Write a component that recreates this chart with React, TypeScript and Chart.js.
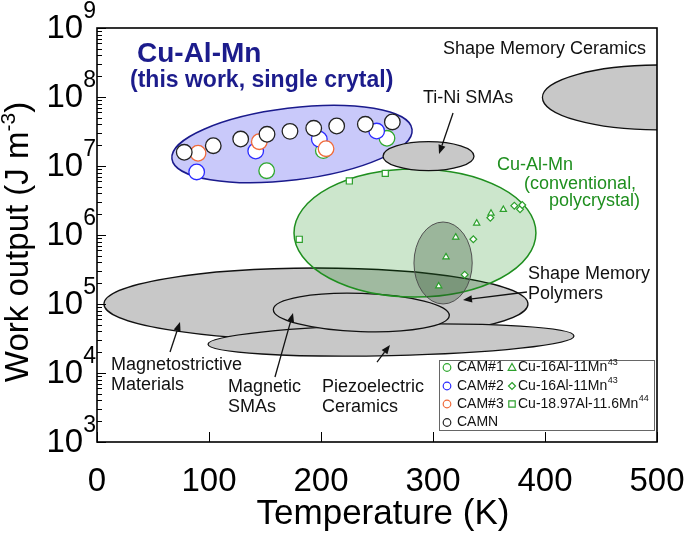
import { useEffect, useRef } from "react";
import { Chart, registerables } from "chart.js";

Chart.register(...registerables);

const FONT = '"Liberation Sans", Arial, Helvetica, sans-serif';

// ---------- axes ----------
const X_TICKS = [0, 100, 200, 300, 400, 500];
const Y_DECADES = [3, 4, 5, 6, 7, 8, 9];
const X_TITLE = "Temperature (K)";
const Y_TITLE = "Work output (J m";
const Y_TITLE_SUP = "-3";
const Y_TITLE_END = ")";

// ---------- this work (single crystals) ----------
const CAM1_T = [151.5, 202.1, 258.9];
const CAM1_W = [8.55e6, 1.67e7, 2.52e7];
const CAM2_T = [89.0, 141.7, 198.5, 249.7];
const CAM2_W = [8.2e6, 1.65e7, 2.44e7, 3.21e7];
const CAM3_T = [90.2, 144.9, 204.5];
const CAM3_W = [1.53e7, 2.25e7, 1.78e7];
const CAMN_T = [77.9, 103.8, 128.3, 151.8, 172.3, 193.5, 214.0, 239.6, 263.7];
const CAMN_W = [1.58e7, 1.97e7, 2.46e7, 2.88e7, 3.18e7, 3.52e7, 3.8e7, 4.02e7, 4.35e7];

// ---------- literature (conventional polycrystals) ----------
const TRI_T = [305.1, 311.6, 320.3, 339.0, 351.8, 362.8];
const TRI_W = [1.82e5, 4.8e5, 9.27e5, 1.48e6, 2.06e6, 2.33e6];
const DIA_T = [328.3, 336.0, 351.2, 372.6, 377.7, 379.7];
const DIA_W = [2.66e5, 8.67e5, 1.78e6, 2.66e6, 2.36e6, 2.72e6];
const SQ_T = [180.6, 225.3, 257.4];
const SQ_W = [8.67e5, 6.07e6, 7.83e6];

// ---------- material regions (ellipses in T / log W space) ----------
const REGION_NAMES = [
  "Magnetostrictive Materials",
  "Piezoelectric Ceramics",
  "Magnetic SMAs",
  "Cu-Al-Mn (this work)",
  "Cu-Al-Mn (conventional)",
  "Ti-Ni SMAs",
  "Shape Memory Ceramics",
  "Shape Memory Polymers",
];
const REGION_T = [195.5, 262.5, 236, 174.1, 283.9, 296, 502.7, 309];
const REGION_T_HALF = [189.3, 163.4, 78.6, 108, 108, 40.6, 105, 26];
const REGION_W = [1.0e5, 3.0e4, 7.53e4, 2.08e7, 1.07e6, 1.39e7, 9.84e7, 3.93e5];
const REGION_DECADES_HALF = [0.522, 0.225, 0.278, 0.522, 0.928, 0.21, 0.471, 0.594];
const REGION_TILT_DEG = [0, -1.3, 2, -7, 0, 0, 0, 0];

// styles (by region index)
const GRAY = { fill: "#c8c8c8", stroke: "#111111", lw: 1.3 };
const REGION_STYLE = [
  GRAY,
  GRAY,
  GRAY,
  { fill: "rgb(201,201,250)", stroke: "#1a1a8c", lw: 1.5 },
  { fill: "rgba(0,128,0,0.2)", stroke: "#1f8f1f", lw: 1.5 },
  GRAY,
  GRAY,
  { fill: "rgba(40,70,40,0.3)", stroke: "#505050", lw: 1 },
];

// ---------- annotations (data coordinates: T, log10 W) ----------
const NOTES = [
  { lines: ["Shape Memory Ceramics"], t: 308.9, lw: 8.696, color: "#111" },
  { lines: ["Ti-Ni SMAs"], t: 291.1, lw: 7.986, color: "#111" },
  { lines: ["Cu-Al-Mn"], t: 357.1, lw: 7.014, color: "#1f8f1f" },
  { lines: ["(conventional,"], t: 381.3, lw: 6.739, color: "#1f8f1f" },
  { lines: ["polycrystal)"], t: 403.6, lw: 6.493, color: "#1f8f1f" },
  { lines: ["Shape Memory", "Polymers"], t: 384.8, lw: 5.435, color: "#111" },
  { lines: ["Magnetostrictive", "Materials"], t: 12.5, lw: 4.116, color: "#111" },
  { lines: ["Magnetic", "SMAs"], t: 117, lw: 3.797, color: "#111" },
  { lines: ["Piezoelectric", "Ceramics"], t: 200.9, lw: 3.797, color: "#111" },
];
const ARROWS = [
  { from: [317.9, 7.768], to: [305.4, 7.174] },
  { from: [383.9, 5.174], to: [326.8, 5.058] },
  { from: [65.2, 4.304], to: [74.1, 4.739] },
  { from: [158.9, 3.942], to: [175.0, 4.87] },
  { from: [250.0, 4.159], to: [261.6, 4.406] },
];
const TITLE_1 = "Cu-Al-Mn";
const TITLE_2 = "(this work, single crytal)";

const pts = (t: number[], w: number[]) => t.map((x, i) => ({ x, y: w[i] }));

const CIRCLE_R = 7.8;

const decor = {
  id: "decor",
  beforeDatasetsDraw(chart: any) {
    const { ctx, chartArea: a } = chart;
    const xs = chart.scales.x;
    const ys = chart.scales.y;
    ctx.save();
    ctx.beginPath();
    ctx.rect(a.left, a.top, a.right - a.left, a.bottom - a.top);
    ctx.clip();
    REGION_NAMES.forEach((_, i) => {
      const cx = xs.getPixelForValue(REGION_T[i]);
      const cy = ys.getPixelForValue(REGION_W[i]);
      const rx = Math.abs(xs.getPixelForValue(REGION_T[i] + REGION_T_HALF[i]) - cx);
      const ry = Math.abs(ys.getPixelForValue(REGION_W[i] * Math.pow(10, REGION_DECADES_HALF[i])) - cy);
      const st = REGION_STYLE[i];
      ctx.beginPath();
      ctx.ellipse(cx, cy, rx, ry, (REGION_TILT_DEG[i] * Math.PI) / 180, 0, Math.PI * 2);
      ctx.fillStyle = st.fill;
      ctx.fill();
      ctx.lineWidth = st.lw;
      ctx.strokeStyle = st.stroke;
      ctx.stroke();
    });
    ctx.restore();
  },
  afterDatasetsDraw(chart: any) {
    const { ctx, chartArea: a } = chart;
    const xs = chart.scales.x;
    const ys = chart.scales.y;
    ctx.save();

    // frame
    ctx.strokeStyle = "#000";
    ctx.lineWidth = 1.6;
    ctx.strokeRect(a.left, a.top, a.right - a.left, a.bottom - a.top);

    // y ticks (log, inward)
    ctx.lineWidth = 1;
    Y_DECADES.forEach((d) => {
      for (let m = 1; m <= 9; m++) {
        const v = m * Math.pow(10, d);
        if (v > Math.pow(10, Y_DECADES[Y_DECADES.length - 1])) continue;
        const py = Math.round(ys.getPixelForValue(v)) + 0.5;
        const len = m === 1 ? 9 : 5;
        ctx.beginPath();
        ctx.moveTo(a.left, py);
        ctx.lineTo(a.left + len, py);
        ctx.stroke();
      }
    });
    // x ticks (inward)
    X_TICKS.forEach((t) => {
      const px = Math.round(xs.getPixelForValue(t)) + 0.5;
      ctx.beginPath();
      ctx.moveTo(px, a.bottom);
      ctx.lineTo(px, a.bottom - 10);
      ctx.stroke();
    });

    // y tick labels 10^n
    ctx.fillStyle = "#000";
    ctx.textBaseline = "alphabetic";
    Y_DECADES.forEach((d) => {
      const py = ys.getPixelForValue(Math.pow(10, d));
      ctx.font = `23px ${FONT}`;
      const sw = ctx.measureText(String(d)).width;
      ctx.textAlign = "right";
      ctx.fillText(String(d), a.left - 1, py - 10);
      ctx.font = `33px ${FONT}`;
      ctx.fillText("10", a.left - 1 - sw, py + 9.5);
    });
    // x tick labels
    ctx.font = `33px ${FONT}`;
    ctx.textAlign = "center";
    X_TICKS.forEach((t) => {
      ctx.fillText(String(t), xs.getPixelForValue(t), a.bottom + 49);
    });

    // x title
    ctx.font = `35px ${FONT}`;
    ctx.fillText(X_TITLE, (a.left + a.right) / 2 + 6, a.bottom + 82);

    // y title (rotated, with superscript)
    ctx.save();
    ctx.translate(27.5, (a.top + a.bottom) / 2 + 7);
    ctx.rotate(-Math.PI / 2);
    ctx.textAlign = "left";
    ctx.font = `33px ${FONT}`;
    const w1 = ctx.measureText(Y_TITLE).width;
    const w3 = ctx.measureText(Y_TITLE_END).width;
    ctx.font = `21px ${FONT}`;
    const w2 = ctx.measureText(Y_TITLE_SUP).width;
    let x0 = -(w1 + w2 + w3) / 2;
    ctx.font = `33px ${FONT}`;
    ctx.fillText(Y_TITLE, x0, 0);
    x0 += w1;
    ctx.font = `21px ${FONT}`;
    ctx.fillText(Y_TITLE_SUP, x0, -13);
    x0 += w2;
    ctx.font = `33px ${FONT}`;
    ctx.fillText(Y_TITLE_END, x0, 0);
    ctx.restore();

    // annotation texts
    ctx.textAlign = "left";
    ctx.textBaseline = "middle";
    ctx.font = `18px ${FONT}`;
    NOTES.forEach((n) => {
      const px = xs.getPixelForValue(n.t);
      const py = ys.getPixelForValue(Math.pow(10, n.lw));
      ctx.fillStyle = n.color;
      n.lines.forEach((ln, k) => ctx.fillText(ln, px, py + k * 20.5));
    });

    // arrows
    ctx.strokeStyle = "#111";
    ctx.fillStyle = "#111";
    ctx.lineWidth = 1.3;
    ARROWS.forEach((ar) => {
      const x1 = xs.getPixelForValue(ar.from[0]);
      const y1 = ys.getPixelForValue(Math.pow(10, ar.from[1]));
      const x2 = xs.getPixelForValue(ar.to[0]);
      const y2 = ys.getPixelForValue(Math.pow(10, ar.to[1]));
      const ang = Math.atan2(y2 - y1, x2 - x1);
      const hl = 9;
      const hw = 3.6;
      const bx = x2 - hl * Math.cos(ang);
      const by = y2 - hl * Math.sin(ang);
      ctx.beginPath();
      ctx.moveTo(x1, y1);
      ctx.lineTo(bx, by);
      ctx.stroke();
      ctx.beginPath();
      ctx.moveTo(x2, y2);
      ctx.lineTo(bx + hw * Math.sin(ang), by - hw * Math.cos(ang));
      ctx.lineTo(bx - hw * Math.sin(ang), by + hw * Math.cos(ang));
      ctx.closePath();
      ctx.fill();
    });

    // title
    ctx.fillStyle = "#1c1c8c";
    ctx.textBaseline = "alphabetic";
    ctx.font = `bold 28px ${FONT}`;
    ctx.fillText(TITLE_1, xs.getPixelForValue(35.7), ys.getPixelForValue(Math.pow(10, 8.652)) + 10);
    ctx.font = `bold 23px ${FONT}`;
    ctx.fillText(TITLE_2, xs.getPixelForValue(29.5), ys.getPixelForValue(Math.pow(10, 8.174)) + 2);

    // legend
    const ds = chart.data.datasets;
    const L = a.right - 218;
    const T = a.bottom - 82;
    ctx.fillStyle = "#fff";
    ctx.fillRect(L, T, 215, 70);
    ctx.strokeStyle = "#666";
    ctx.lineWidth = 1;
    ctx.strokeRect(L + 0.5, T + 0.5, 215, 70);
    const rowsY = [7.5, 26, 44, 62.5];
    const items = [
      { di: 3, col: 0, row: 0, text: "CAM#1", sup: "" },
      { di: 2, col: 0, row: 1, text: "CAM#2", sup: "" },
      { di: 1, col: 0, row: 2, text: "CAM#3", sup: "" },
      { di: 0, col: 0, row: 3, text: "CAMN", sup: "" },
      { di: 4, col: 1, row: 0, text: "Cu-16Al-11Mn", sup: "43" },
      { di: 5, col: 1, row: 1, text: "Cu-16Al-11Mn", sup: "43" },
      { di: 6, col: 1, row: 2, text: "Cu-18.97Al-11.6Mn", sup: "44" },
    ];
    items.forEach((it) => {
      const d = ds[it.di];
      const y = T + rowsY[it.row];
      const mx = L + (it.col === 0 ? 8 : 73);
      const tx = L + (it.col === 0 ? 18 : 79);
      ctx.strokeStyle = d.pointBorderColor;
      ctx.fillStyle = "#fff";
      ctx.lineWidth = 1.2;
      ctx.beginPath();
      const s = d.pointStyle;
      if (s === "circle") ctx.arc(mx, y, 3.8, 0, Math.PI * 2);
      else if (s === "triangle") {
        ctx.moveTo(mx, y - 4);
        ctx.lineTo(mx + 3.8, y + 2.8);
        ctx.lineTo(mx - 3.8, y + 2.8);
        ctx.closePath();
      } else if (s === "rectRot") {
        ctx.moveTo(mx, y - 3.5);
        ctx.lineTo(mx + 3.5, y);
        ctx.lineTo(mx, y + 3.5);
        ctx.lineTo(mx - 3.5, y);
        ctx.closePath();
      } else {
        ctx.rect(mx - 3.2, y - 3.2, 6.4, 6.4);
      }
      ctx.fill();
      ctx.stroke();
      ctx.fillStyle = "#111";
      ctx.textAlign = "left";
      ctx.textBaseline = "middle";
      ctx.font = `14px ${FONT}`;
      ctx.fillText(it.text, tx, y);
      if (it.sup) {
        const w = ctx.measureText(it.text).width;
        ctx.font = `9px ${FONT}`;
        ctx.fillText(it.sup, tx + w + 0.5, y - 5);
      }
    });

    ctx.restore();
  },
};

export default function App() {
  const ref = useRef<HTMLCanvasElement>(null);
  useEffect(() => {
    const canvas = ref.current;
    if (!canvas) return;
    const circle = (label: string, t: number[], w: number[], color: string, order: number) => ({
      label,
      data: pts(t, w),
      pointStyle: "circle",
      pointRadius: CIRCLE_R,
      pointBorderWidth: 1.3,
      pointBorderColor: color,
      pointBackgroundColor: "#ffffff",
      borderColor: color,
      backgroundColor: "#ffffff",
      order,
    });
    const lit = (label: string, t: number[], w: number[], style: string, r: number, order: number) => ({
      label,
      data: pts(t, w),
      pointStyle: style,
      pointRadius: r,
      pointBorderWidth: 1.2,
      pointBorderColor: "#2ca02c",
      pointBackgroundColor: "#ffffff",
      borderColor: "#2ca02c",
      backgroundColor: "#ffffff",
      order,
    });
    const chart = new Chart(canvas, {
      type: "scatter",
      data: {
        datasets: [
          circle("CAMN", CAMN_T, CAMN_W, "#222222", 0),
          circle("CAM#3", CAM3_T, CAM3_W, "#f06a3a", 1),
          circle("CAM#2", CAM2_T, CAM2_W, "#2a2aff", 2),
          circle("CAM#1", CAM1_T, CAM1_W, "#2fa82f", 3),
          lit("Cu-16Al-11Mn (43)", TRI_T, TRI_W, "triangle", 3.6, 4),
          lit("Cu-16Al-11Mn (43) b", DIA_T, DIA_W, "rectRot", 3.4, 5),
          lit("Cu-18.97Al-11.6Mn (44)", SQ_T, SQ_W, "rect", 4.3, 6),
        ] as any,
      },
      options: {
        animation: false,
        responsive: false,
        events: [],
        layout: { padding: { left: 97, top: 28, right: 28, bottom: 93 } },
        plugins: { legend: { display: false }, tooltip: { enabled: false } },
        scales: {
          x: { type: "linear", min: 0, max: 500, display: false },
          y: { type: "logarithmic", min: 1e3, max: 1e9, display: false },
        },
      } as any,
      plugins: [decor as any],
    });
    return () => chart.destroy();
  }, []);
  return (
    <div style={{ position: "fixed", left: 0, top: 0, width: 685, height: 535, background: "#fff" }}>
      <canvas ref={ref} width={685} height={535} style={{ display: "block" }} />
    </div>
  );
}
